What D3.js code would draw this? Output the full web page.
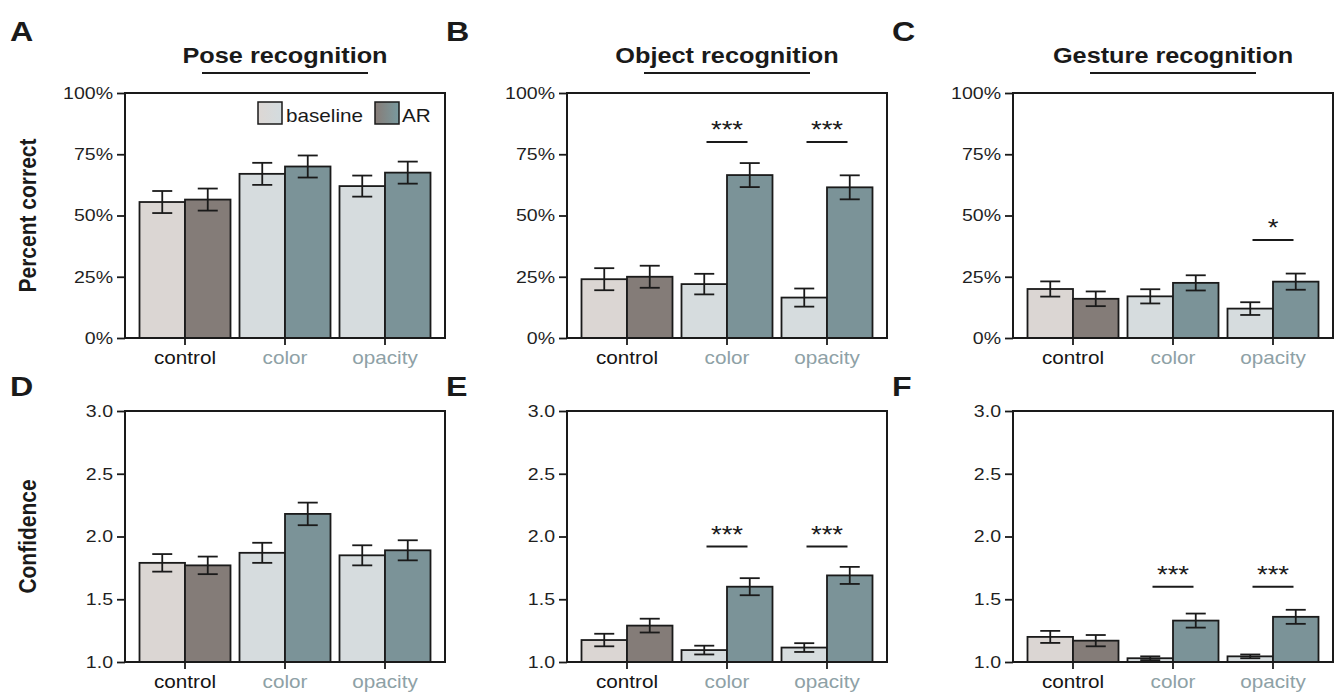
<!DOCTYPE html>
<html>
<head>
<meta charset="utf-8">
<script src="https://cdn.jsdelivr.net/npm/d3@7"></script>
<style>
  body { margin: 0; background: #fff; }
  text { font-family: "Liberation Sans", Arial, sans-serif; fill: #1a1a1a; }
</style>
</head>
<body>
<script>
/////////////////////////////// data
const categories = ["control", "color", "opacity"];
const conditions = ["baseline", "AR"];

// percent correct, [baseline, AR] for each category
const poseAcc = [[55.5, 56.5], [67, 70], [62, 67.5]];
const poseAccErr = [[4.5, 4.5], [4.5, 4.5], [4.3, 4.5]];
const objectAcc = [[24, 25], [22, 66.5], [16.5, 61.5]];
const objectAccErr = [[4.5, 4.5], [4.2, 4.9], [3.7, 4.9]];
const gestureAcc = [[20, 16], [17, 22.5], [12, 23]];
const gestureAccErr = [[3.1, 3], [2.9, 3.1], [2.6, 3.3]];

// confidence, [baseline, AR] for each category
const poseConf = [[1.79, 1.77], [1.87, 2.18], [1.85, 1.89]];
const poseConfErr = [[0.07, 0.07], [0.08, 0.09], [0.08, 0.08]];
const objectConf = [[1.175, 1.29], [1.095, 1.6], [1.115, 1.69]];
const objectConfErr = [[0.05, 0.055], [0.035, 0.068], [0.035, 0.068]];
const gestureConf = [[1.2, 1.17], [1.03, 1.33], [1.045, 1.36]];
const gestureConfErr = [[0.048, 0.045], [0.015, 0.056], [0.015, 0.056]];

// significance marks: [category index, height, label]
const objectAccSig = [[1, 80, "***"], [2, 80, "***"]];
const gestureAccSig = [[2, 40, "*"]];
const objectConfSig = [[1, 1.92, "***"], [2, 1.92, "***"]];
const gestureConfSig = [[1, 1.6, "***"], [2, 1.6, "***"]];

const accTicks = [0, 25, 50, 75, 100];
const confTicks = [1.0, 1.5, 2.0, 2.5, 3.0];

/////////////////////////////// layout
const SX = 1.15; // the figure is a bit stretched sideways
const colLeft = [125, 567, 1013];
const letterX = [10, 446, 892];
const plotW = 320;
const rows = [
  { top: 93, h: 245, domain: [0, 100], ticks: accTicks, fmt: (d) => d + "%", label: "Percent correct", letterY: 41 },
  { top: 411, h: 251, domain: [1, 3], ticks: confTicks, fmt: d3.format(".1f"), label: "Confidence", letterY: 396 },
];

const panels = [
  { letter: "A", col: 0, row: 0, title: "Pose recognition", means: poseAcc, errs: poseAccErr, sig: [], legend: true },
  { letter: "B", col: 1, row: 0, title: "Object recognition", means: objectAcc, errs: objectAccErr, sig: objectAccSig },
  { letter: "C", col: 2, row: 0, title: "Gesture recognition", means: gestureAcc, errs: gestureAccErr, sig: gestureAccSig },
  { letter: "D", col: 0, row: 1, means: poseConf, errs: poseConfErr, sig: [] },
  { letter: "E", col: 1, row: 1, means: objectConf, errs: objectConfErr, sig: objectConfSig },
  { letter: "F", col: 2, row: 1, means: gestureConf, errs: gestureConfErr, sig: gestureConfSig },
];

const fills = {
  control: ["#dbd6d3", "#847c78"],
  treat: ["#d6dcde", "#7b9398"],
};
const catColor = (c) => (c === "control" ? "#151515" : "#8ea1a6");

/////////////////////////////// svg
const svg = d3.select("body").append("svg").attr("width", 1339).attr("height", 694);

const defs = svg.append("defs");
function grad(id, a, b) {
  const g = defs.append("linearGradient").attr("id", id).attr("x1", "0%").attr("x2", "100%");
  g.append("stop").attr("offset", "0%").attr("stop-color", a);
  g.append("stop").attr("offset", "100%").attr("stop-color", b);
}
grad("gBase", "#ddd7d4", "#d3dcdf");
grad("gAR", "#877c77", "#799a9f");

function stretched(parent, x, y, str) {
  return parent.append("text").attr("transform", `translate(${x},${y}) scale(${SX},1)`).text(str);
}

// row labels
rows.forEach((r) => {
  svg
    .append("text")
    .attr("transform", `translate(28,${r.top + r.h / 2}) scale(${SX},1) rotate(-90)`)
    .attr("text-anchor", "middle")
    .attr("dy", "0.35em")
    .style("font-size", "21px")
    .style("font-weight", "bold")
    .text(r.label);
});

const x0 = d3.scaleBand().domain(categories).range([10, plotW - 10]).paddingInner(0.09).paddingOuter(0.045);
const x1 = d3.scaleBand().domain(conditions).range([0, x0.bandwidth()]);

panels.forEach((p) => {
  const r = rows[p.row];
  const left = colLeft[p.col];
  const g = svg.append("g").attr("transform", `translate(${left},${r.top})`);
  const y = d3.scaleLinear().domain(r.domain).range([r.h, 0]);

  // panel letter
  stretched(svg, letterX[p.col], r.letterY, p.letter).style("font-size", "28px").style("font-weight", "bold");

  // title + underline
  if (p.title) {
    stretched(svg, left + plotW / 2, 63, p.title)
      .attr("text-anchor", "middle")
      .style("font-size", "22px")
      .style("font-weight", "bold");
    svg
      .append("line")
      .attr("x1", left + plotW / 2 - 83)
      .attr("x2", left + plotW / 2 + 83)
      .attr("y1", 73)
      .attr("y2", 73)
      .attr("stroke", "#1a1a1a")
      .attr("stroke-width", 1.8);
  }

  // bars
  const flat = [];
  categories.forEach((c, i) => {
    conditions.forEach((k, j) => {
      flat.push({ cat: c, cond: k, i: i, j: j, v: p.means[i][j], e: p.errs[i][j] });
    });
  });

  g.selectAll(".bar")
    .data(flat)
    .enter()
    .append("rect")
    .attr("class", "bar")
    .attr("x", (d) => x0(d.cat) + x1(d.cond))
    .attr("width", x1.bandwidth())
    .attr("y", (d) => y(d.v))
    .attr("height", (d) => y(r.domain[0]) - y(d.v))
    .attr("fill", (d) => (d.cat === "control" ? fills.control : fills.treat)[d.j])
    .attr("stroke", "#1a1a1a")
    .attr("stroke-width", 1.8);

  // error bars
  const eb = g
    .selectAll(".err")
    .data(flat)
    .enter()
    .append("g")
    .attr("class", "err")
    .attr("transform", (d) => `translate(${x0(d.cat) + x1(d.cond) + x1.bandwidth() / 2},0)`)
    .attr("stroke", "#1a1a1a")
    .attr("stroke-width", 1.8);
  eb.append("line").attr("y1", (d) => y(d.v - d.e)).attr("y2", (d) => y(d.v + d.e));
  eb.append("line").attr("x1", -10).attr("x2", 10).attr("y1", (d) => y(d.v + d.e)).attr("y2", (d) => y(d.v + d.e));
  eb.append("line").attr("x1", -10).attr("x2", 10).attr("y1", (d) => y(d.v - d.e)).attr("y2", (d) => y(d.v - d.e));

  // significance
  p.sig.forEach((s) => {
    const cx = x0(categories[s[0]]) + x0.bandwidth() / 2;
    g.append("line")
      .attr("x1", cx - 20.5)
      .attr("x2", cx + 20.5)
      .attr("y1", y(s[1]))
      .attr("y2", y(s[1]))
      .attr("stroke", "#1a1a1a")
      .attr("stroke-width", 2);
    stretched(g, cx, y(s[1]) - 4, s[2]).attr("text-anchor", "middle").style("font-size", "24px");
  });

  // frame
  g.append("rect")
    .attr("width", plotW)
    .attr("height", r.h)
    .attr("fill", "none")
    .attr("stroke", "#1a1a1a")
    .attr("stroke-width", 2);

  // y axis
  const ya = g.append("g").call(d3.axisLeft(y).tickValues(r.ticks).tickSize(8).tickPadding(4).tickFormat(r.fmt));
  ya.select(".domain").remove();
  ya.selectAll("line").attr("stroke", "#1a1a1a").attr("stroke-width", 1.8);
  ya.selectAll("text")
    .attr("x", -12 / SX)
    .attr("transform", `scale(${SX},1)`)
    .style("font-size", "17px")
    .style("font-family", '"Liberation Sans", Arial, sans-serif')
    .style("fill", "#1f1f1f");

  // x axis
  const xa = g
    .append("g")
    .attr("transform", `translate(0,${r.h})`)
    .call(d3.axisBottom(x0).tickSize(7).tickPadding(6));
  xa.select(".domain").remove();
  xa.selectAll("line").attr("stroke", "#1a1a1a").attr("stroke-width", 1.8);
  xa.selectAll("text")
    .attr("transform", `scale(${SX},1)`)
    .style("font-size", "18px")
    .style("font-family", '"Liberation Sans", Arial, sans-serif')
    .style("fill", (d) => catColor(d));

  // legend
  if (p.legend) {
    const lg = g.append("g").attr("transform", "translate(133,9)");
    lg.append("rect").attr("width", 24).attr("height", 22).attr("fill", "url(#gBase)").attr("stroke", "#1a1a1a").attr("stroke-width", 1.5);
    stretched(lg, 28, 20, "baseline").style("font-size", "18px");
    lg.append("rect").attr("x", 117).attr("width", 24).attr("height", 22).attr("fill", "url(#gAR)").attr("stroke", "#1a1a1a").attr("stroke-width", 1.5);
    stretched(lg, 144, 20, "AR").style("font-size", "18px");
  }
});
</script>
</body>
</html>
